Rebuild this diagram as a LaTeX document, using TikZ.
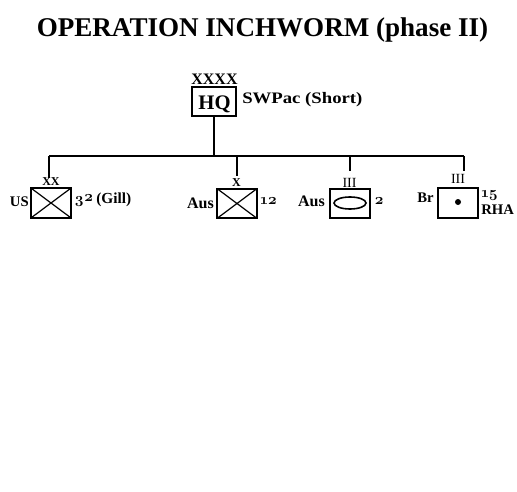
\documentclass[tikz,border=0pt]{standalone}
\usepackage{fontspec}
\setmainfont{Liberation Serif}
\newfontfamily\lmr{Latin Modern Roman}
\tikzset{
  x=0.75pt,y=-0.75pt,
  unitbox/.style={draw,line width=1.5pt,minimum width=29.5pt,minimum height=22pt,inner sep=0pt,outer sep=0pt},
  link/.style={line width=1.5pt},
  thin line/.style={line width=0.9pt},
  lab/.style={font=\bfseries\fontsize{11pt}{12pt}\selectfont,inner sep=0pt,text=black},
  wide lab/.style={font=\bfseries\fontsize{12pt}{13pt}\selectfont,inner sep=0pt,text=black},
  digit lab/.style={font=\bfseries\fontsize{11.5pt}{12pt}\selectfont,inner sep=0pt,text=black},
  small lab/.style={font=\bfseries\fontsize{9pt}{10pt}\selectfont,inner sep=0pt},
  echelon/.style={font=\fontsize{10.5pt}{11pt}\selectfont,inner sep=0pt},
}
\begin{document}
\begin{tikzpicture}
\useasboundingbox (0,0) rectangle (517,492);
\fill[white] (0,0) rectangle (517,492);
\node[inner sep=0pt,font=\bfseries\fontsize{20.3pt}{22pt}\selectfont] (title) at (262.5,30) {OPERATION INCHWORM (phase II)};

\node[unitbox,minimum width=33pt,minimum height=21.5pt] (hq) at (214,101.5) {};
\node[inner sep=0pt,font=\bfseries\fontsize{15.5pt}{17pt}\selectfont] (hqt) at (214.5,104) {HQ};
\node[font=\bfseries\fontsize{12pt}{13pt}\selectfont,inner sep=0pt] (hqe) at (214.5,79) {XXXX};
\node[wide lab,anchor=west,xscale=1.17,transform shape] (hql) at (242,100) {SWPac (Short)};

\coordinate (barl) at (49,156);
\coordinate (barr) at (464,156);
\draw[link] (barl) -- (barr);
\draw[link] (hq.south) -- (hq.south |- barl);

\node[unitbox] (us) at (51,203) {};
\draw[thin line] (us.north west) -- (us.south east) (us.north east) -- (us.south west);
\coordinate (ust) at (49,178);
\draw[link] (barl) -- (ust);
\node[small lab] (use) at (51,181.5) {XX};
\node[lab,anchor=east] (usl) at (29,202) {US};
\node[digit lab,anchor=west] (usr) at (74,200.5) {\lmr\bfseries\oldstylenums{3}\raisebox{1pt}{\oldstylenums{2}}};
\node[digit lab,anchor=west] (usg) at (96,200) {(Gill)};

\node[unitbox] (au) at (237,203.5) {};
\draw[thin line] (au.north west) -- (au.south east) (au.north east) -- (au.south west);
\coordinate (aut) at (237,176);
\draw[link] (aut |- barl) -- (aut);
\node[small lab] (aue) at (236.5,183) {X};
\node[wide lab,anchor=east] (aul) at (214,203) {Aus};
\node[digit lab,anchor=west] (aur) at (260,201) {\lmr\bfseries\oldstylenums{12}};

\node[unitbox] (br2) at (350,203.5) {};
\draw[line width=1.2pt] (350,203) ellipse (16 and 6);
\coordinate (br2t) at (350,171);
\draw[link] (br2t |- barl) -- (br2t);
\node[echelon] (br2e) at (349.5,183) {III};
\node[wide lab,anchor=east] (br2l) at (325,201) {Aus};
\node[digit lab,anchor=west] (br2r) at (374,201) {\lmr\bfseries\oldstylenums{2}};

\node[unitbox] (r) at (458,203) {};
\fill (458,202) circle (3);
\coordinate (rt) at (464,171);
\draw[link] (barr) -- (rt);
\node[echelon] (re) at (458,179) {III};
\node[lab,anchor=east] (rl) at (434,198) {Br};
\node[digit lab,anchor=west] (r1) at (481,196) {\lmr\bfseries\oldstylenums{15}};
\node[lab,anchor=west] (r2) at (481,210) {RHA};
\end{tikzpicture}
\end{document}
